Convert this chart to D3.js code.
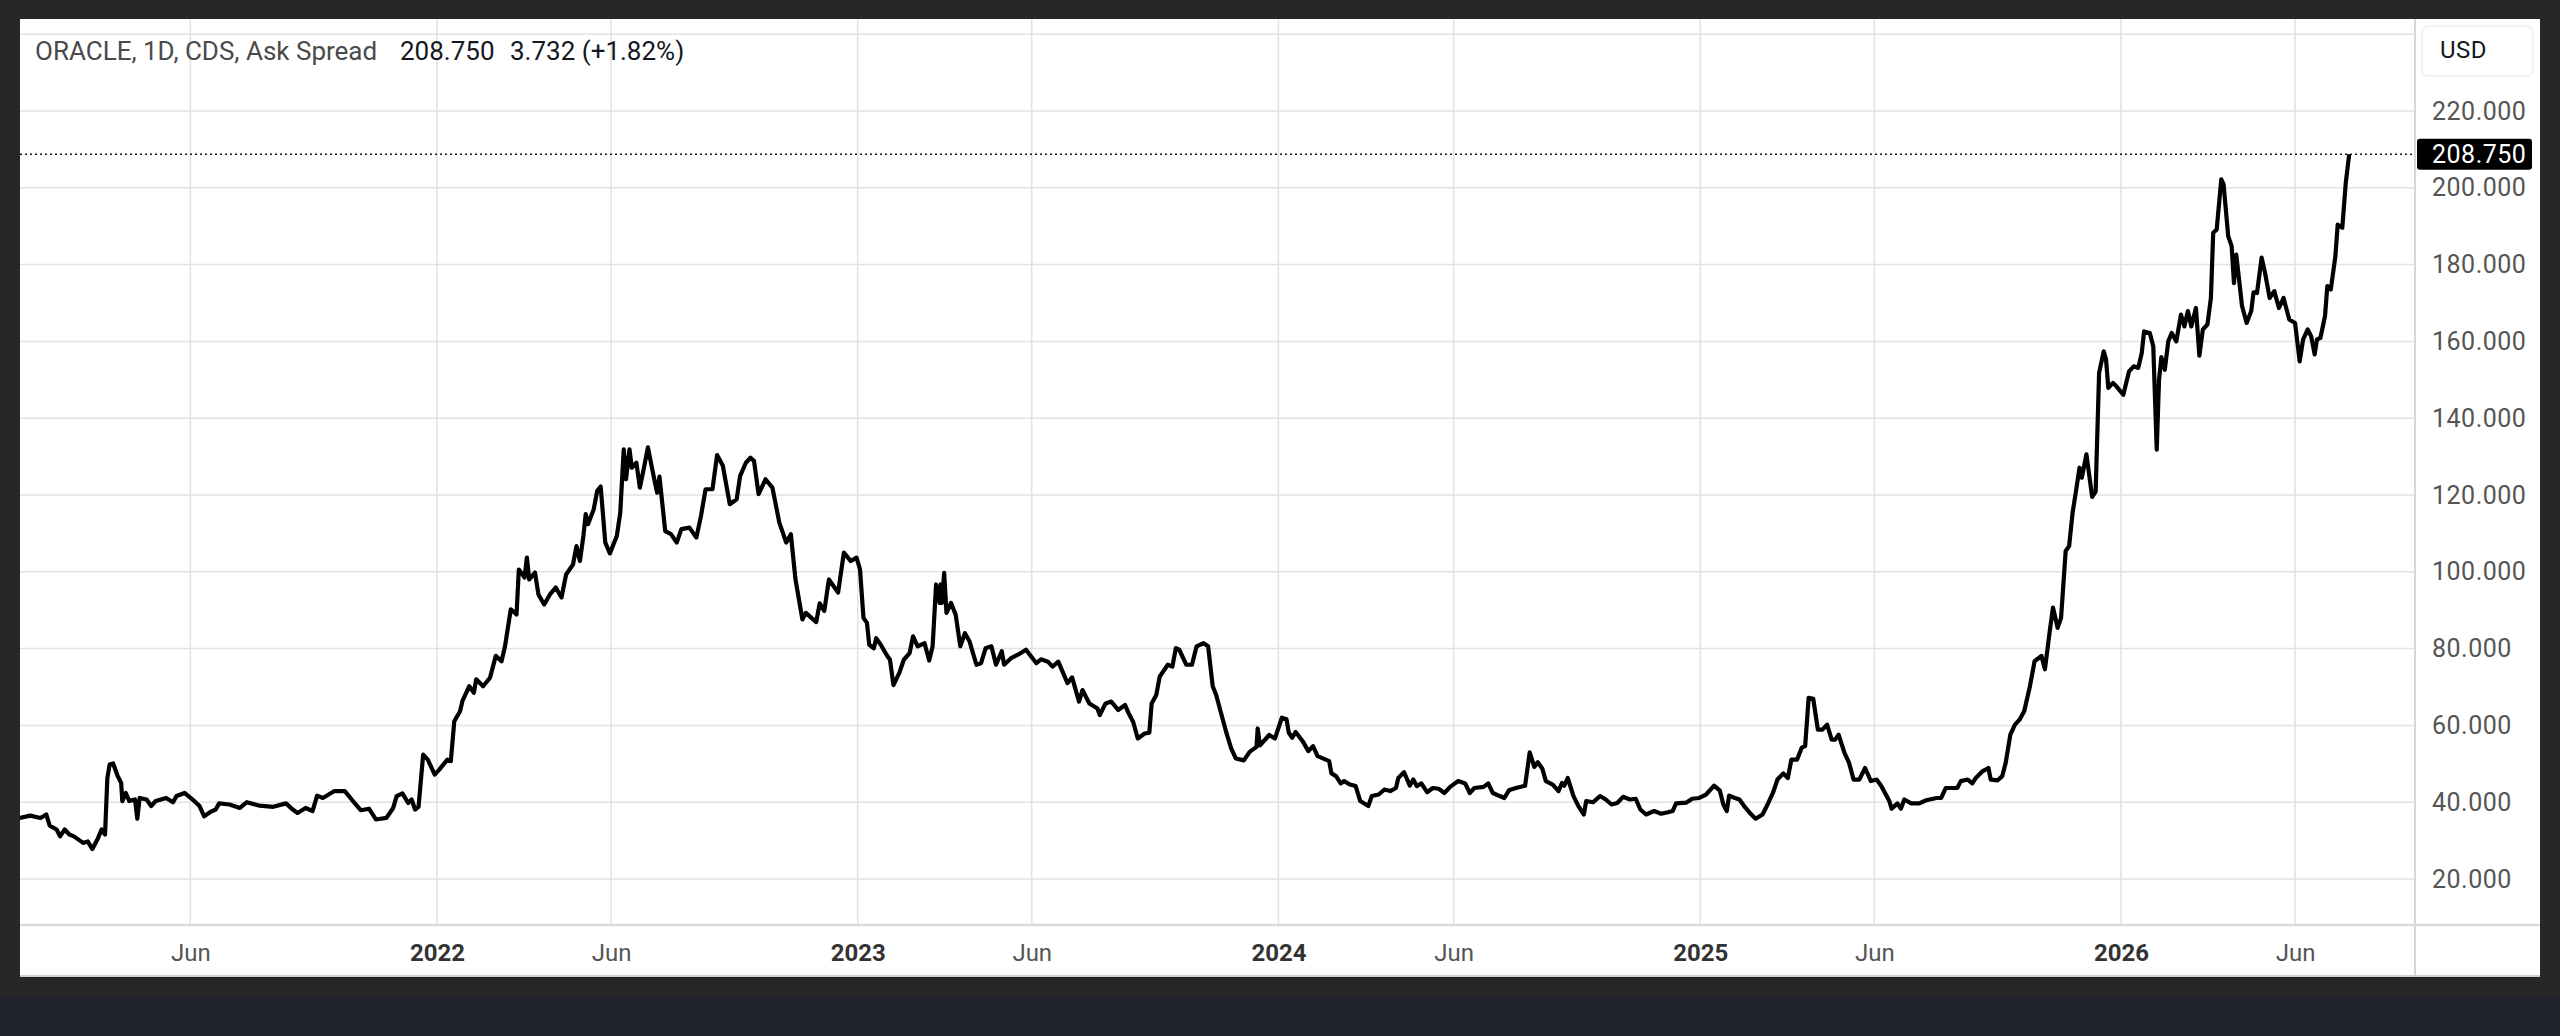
<!DOCTYPE html>
<html>
<head>
<meta charset="utf-8">
<script src="https://cdn.jsdelivr.net/npm/d3@7/dist/d3.min.js"></script>
<style>
  html, body { margin: 0; padding: 0; background: #272727; }
  svg { display: block; font-family: Roboto, "Noto Sans", sans-serif; }
  .grid line { stroke: #e2e2e2; stroke-width: 1.5; }
  .xaxis text { font-size: 24px; fill: #555; }
  .xaxis text.year { font-weight: 700; fill: #333; }
  .yaxis text { font-size: 25px; fill: #555; letter-spacing: 0.5px; }
</style>
</head>
<body>
<div id="chart"></div>
<script>
// CDS ask spread, daily chart
const dates = [
  "2021-01-04","2021-01-13","2021-01-22","2021-01-27","2021-01-30","2021-02-05","2021-02-08","2021-02-12","2021-02-16","2021-02-20",
  "2021-02-28","2021-03-04","2021-03-08","2021-03-13","2021-03-16","2021-03-19","2021-03-21","2021-03-23","2021-03-26","2021-03-30",
  "2021-04-02","2021-04-03","2021-04-06","2021-04-09","2021-04-14","2021-04-16","2021-04-18","2021-04-24","2021-04-28","2021-05-02",
  "2021-05-11","2021-05-17","2021-05-20","2021-05-27","2021-06-03","2021-06-09","2021-06-13","2021-06-18","2021-06-23","2021-06-26",
  "2021-07-05","2021-07-14","2021-07-20","2021-07-31","2021-08-12","2021-08-23","2021-08-28","2021-09-02","2021-09-09","2021-09-15",
  "2021-09-19","2021-09-24","2021-10-04","2021-10-13","2021-10-19","2021-10-27","2021-11-03","2021-11-09","2021-11-18","2021-11-24",
  "2021-11-27","2021-12-02","2021-12-07","2021-12-10","2021-12-13","2021-12-16","2021-12-20","2021-12-24","2021-12-30",
  "2022-01-03","2022-01-10","2022-01-13","2022-01-16","2022-01-21","2022-01-23","2022-01-29","2022-02-02","2022-02-04","2022-02-10",
  "2022-02-16","2022-02-21","2022-02-26","2022-03-01","2022-03-06","2022-03-11","2022-03-13","2022-03-18","2022-03-20","2022-03-22",
  "2022-03-27","2022-03-30","2022-04-04","2022-04-09","2022-04-14","2022-04-19","2022-04-23","2022-04-29","2022-05-02","2022-05-05",
  "2022-05-08","2022-05-10","2022-05-12","2022-05-17","2022-05-20","2022-05-23","2022-05-27","2022-05-31","2022-06-06","2022-06-09",
  "2022-06-12","2022-06-14","2022-06-17","2022-06-19","2022-06-23","2022-06-26","2022-06-29","2022-07-03","2022-07-07","2022-07-11",
  "2022-07-13","2022-07-18","2022-07-23","2022-07-28","2022-08-01","2022-08-08","2022-08-14","2022-08-18","2022-08-22","2022-08-28",
  "2022-09-01","2022-09-06","2022-09-12","2022-09-18","2022-09-21","2022-09-26","2022-09-30","2022-10-03","2022-10-07","2022-10-13",
  "2022-10-19","2022-10-25","2022-10-31","2022-11-04","2022-11-08","2022-11-14","2022-11-17","2022-11-26","2022-11-29","2022-12-03",
  "2022-12-07","2022-12-15","2022-12-20","2022-12-26","2022-12-31",
  "2023-01-03","2023-01-06","2023-01-09","2023-01-11","2023-01-15","2023-01-17","2023-01-21","2023-01-26","2023-01-29","2023-02-01",
  "2023-02-06","2023-02-10","2023-02-15","2023-02-18","2023-02-22","2023-02-28","2023-03-04","2023-03-07","2023-03-10","2023-03-13",
  "2023-03-14","2023-03-15","2023-03-17","2023-03-19","2023-03-23","2023-03-27","2023-03-31","2023-04-04","2023-04-08","2023-04-14",
  "2023-04-18","2023-04-22","2023-04-27","2023-05-01","2023-05-06","2023-05-08","2023-05-14","2023-05-20","2023-05-27","2023-06-05",
  "2023-06-09","2023-06-15","2023-06-19","2023-06-24","2023-07-02","2023-07-06","2023-07-12","2023-07-15","2023-07-21","2023-07-28",
  "2023-07-30","2023-08-04","2023-08-09","2023-08-15","2023-08-21","2023-08-24","2023-08-28","2023-09-01","2023-09-07","2023-09-11",
  "2023-09-13","2023-09-17","2023-09-20","2023-09-27","2023-10-01","2023-10-04","2023-10-07","2023-10-13","2023-10-18","2023-10-22",
  "2023-10-28","2023-11-01","2023-11-05","2023-11-08","2023-11-17","2023-11-21","2023-11-25","2023-12-02","2023-12-07","2023-12-13",
  "2023-12-14","2023-12-16","2023-12-24","2023-12-29",
  "2024-01-04","2024-01-08","2024-01-10","2024-01-13","2024-01-16","2024-01-22","2024-01-27","2024-01-31","2024-02-04","2024-02-11",
  "2024-02-14","2024-02-16","2024-02-20","2024-02-24","2024-02-27","2024-03-03","2024-03-08","2024-03-12","2024-03-19","2024-03-22",
  "2024-03-28","2024-04-02","2024-04-07","2024-04-12","2024-04-14","2024-04-19","2024-04-24","2024-04-27","2024-04-30","2024-05-04",
  "2024-05-09","2024-05-14","2024-05-19","2024-05-24","2024-05-29","2024-06-05","2024-06-11","2024-06-15","2024-06-19","2024-06-27",
  "2024-07-01","2024-07-05","2024-07-11","2024-07-15","2024-07-19","2024-07-25","2024-08-02","2024-08-06","2024-08-10","2024-08-13",
  "2024-08-17","2024-08-20","2024-08-26","2024-08-31","2024-09-03","2024-09-05","2024-09-08","2024-09-13","2024-09-17","2024-09-22",
  "2024-09-24","2024-09-30","2024-10-06","2024-10-11","2024-10-16","2024-10-21","2024-10-26","2024-11-01","2024-11-06","2024-11-10",
  "2024-11-15","2024-11-22","2024-11-28","2024-12-04","2024-12-08","2024-12-11","2024-12-20","2024-12-25","2024-12-31",
  "2025-01-06","2025-01-13","2025-01-18","2025-01-21","2025-01-24","2025-01-26","2025-01-31","2025-02-04","2025-02-08","2025-02-13",
  "2025-02-18","2025-02-24","2025-03-01","2025-03-05","2025-03-09","2025-03-14","2025-03-18","2025-03-21","2025-03-26","2025-03-30",
  "2025-04-02","2025-04-05","2025-04-09","2025-04-13","2025-04-17","2025-04-21","2025-04-25","2025-04-28","2025-05-01","2025-05-06",
  "2025-05-10","2025-05-14","2025-05-19","2025-05-24","2025-05-29","2025-06-03","2025-06-07","2025-06-11","2025-06-14","2025-06-16",
  "2025-06-21","2025-06-24","2025-06-27","2025-07-03","2025-07-10","2025-07-16","2025-07-25","2025-07-29","2025-08-02","2025-08-08",
  "2025-08-12","2025-08-15","2025-08-21","2025-08-25","2025-08-28","2025-09-03","2025-09-08","2025-09-10","2025-09-16","2025-09-20",
  "2025-09-23","2025-09-27","2025-10-01","2025-10-05","2025-10-09","2025-10-14","2025-10-18","2025-10-24","2025-10-27","2025-10-31",
  "2025-11-03","2025-11-07","2025-11-10","2025-11-14","2025-11-17","2025-11-20","2025-11-23","2025-11-26","2025-11-28","2025-12-02",
  "2025-12-07","2025-12-10","2025-12-13","2025-12-17","2025-12-19","2025-12-21","2025-12-25","2025-12-28",
  "2026-01-03","2026-01-08","2026-01-12","2026-01-16","2026-01-19","2026-01-21","2026-01-26","2026-01-29","2026-02-01","2026-02-03",
  "2026-02-05","2026-02-08","2026-02-11","2026-02-14","2026-02-18","2026-02-22","2026-02-25","2026-02-28","2026-03-03","2026-03-07",
  "2026-03-10","2026-03-13","2026-03-17","2026-03-20","2026-03-22","2026-03-25","2026-03-29","2026-03-31","2026-04-04","2026-04-07",
  "2026-04-09","2026-04-11","2026-04-16","2026-04-20","2026-04-24","2026-04-26","2026-04-29","2026-05-03","2026-05-06","2026-05-10",
  "2026-05-14","2026-05-18","2026-05-22","2026-05-27","2026-06-01","2026-06-05","2026-06-08","2026-06-12","2026-06-15","2026-06-18",
  "2026-06-20","2026-06-23","2026-06-27","2026-06-29","2026-07-02","2026-07-06","2026-07-08","2026-07-12","2026-07-15","2026-07-18"
];
const spread = [
  35.9,36.5,35.9,36.8,33.9,32.9,31.1,32.9,31.6,31.1,
  29.4,29.8,27.8,30.7,32.9,31.6,46.3,49.8,50.1,46.8,
  45.0,40.3,42.4,40.3,40.7,35.7,41.1,40.7,39.0,40.3,
  41.1,40.0,41.6,42.4,40.7,39.0,36.3,37.4,38.1,39.7,
  39.4,38.5,40.0,39.1,38.8,39.7,38.3,37.2,38.5,37.7,
  41.7,41.1,42.9,42.9,40.7,37.9,38.3,35.5,35.9,38.5,
  41.6,42.3,39.8,40.7,38.1,38.8,52.4,51.1,47.2,
  48.5,51.1,50.7,61.1,63.7,66.3,70.2,68.5,72.0,70.2,
  72.4,78.1,76.7,80.6,90.2,88.9,100.6,98.5,103.7,98.0,
  99.8,94.1,91.5,94.1,95.9,93.3,99.3,101.9,106.7,102.8,
  109.3,115.0,112.4,116.3,121.1,122.2,107.6,104.8,109.3,115.4,
  131.9,124.1,131.9,127.1,128.4,121.9,126.3,132.4,126.3,120.6,
  124.8,110.6,109.8,107.6,111.1,111.5,108.9,114.5,121.5,121.5,
  130.4,127.6,117.6,118.9,125.0,128.4,129.7,128.9,120.2,124.1,
  121.9,112.8,107.6,109.8,98.0,87.6,89.3,86.9,91.8,89.8,
  98.0,94.6,105.0,102.8,103.7,
  100.6,88.0,86.7,81.0,80.1,82.7,81.0,78.4,77.1,70.5,
  73.6,77.1,78.8,83.2,80.6,81.4,76.9,80.6,96.7,91.9,
  96.7,91.9,99.7,89.3,91.9,88.8,80.6,84.0,81.9,75.8,
  76.2,80.1,80.6,75.8,79.3,75.8,77.5,78.4,79.7,76.2,
  77.2,76.6,75.3,76.6,71.0,72.5,66.2,69.2,65.7,64.4,
  62.7,65.7,66.2,64.0,65.3,63.2,60.9,56.6,57.9,58.1,
  65.7,67.9,72.7,75.8,75.3,80.1,79.7,75.8,75.8,80.6,
  81.4,80.6,70.2,67.9,57.9,54.0,51.4,50.9,53.1,54.4,
  59.2,54.8,57.5,56.6,
  62.0,61.6,58.1,56.8,58.3,55.9,53.3,54.6,52.0,51.1,
  50.7,47.5,46.8,44.9,45.5,44.6,44.2,40.3,39.0,41.6,
  42.0,43.3,42.9,43.7,46.3,47.8,44.3,45.9,44.2,44.9,
  42.6,43.7,43.5,42.4,44.0,45.5,44.9,42.4,43.7,44.0,
  44.9,42.4,41.6,41.1,43.1,43.7,44.3,53.0,49.2,50.4,
  48.7,45.5,44.6,42.9,45.0,44.3,46.3,41.6,39.1,36.8,
  40.3,40.0,41.6,40.7,39.4,39.8,41.4,40.7,40.9,38.1,
  36.8,37.7,37.0,37.4,37.7,39.7,39.9,40.9,41.1,
  42.0,44.3,43.0,39.4,37.7,41.7,41.1,40.7,39.0,37.2,
  35.7,36.8,39.8,42.4,45.9,47.5,46.3,51.1,51.1,54.2,
  54.6,67.2,66.9,58.9,58.9,60.2,56.3,56.3,57.6,52.9,
  50.3,45.9,45.9,48.9,45.5,45.9,44.2,42.0,40.3,38.3,
  39.7,38.3,40.7,39.7,39.7,40.5,41.1,41.1,43.7,43.7,
  43.7,45.5,45.9,44.9,46.3,48.1,48.9,45.9,45.7,46.8,
  50.3,57.6,60.2,61.5,63.7,70.2,76.7,78.1,74.6,84.1,
  90.7,85.4,88.0,105.4,106.7,115.4,121.1,127.1,124.5,130.6,
  119.5,120.9,151.8,157.4,155.3,147.9,149.2,148.3,
  146.1,152.2,153.5,153.1,157.0,162.6,162.2,158.7,131.8,150.0,
  155.9,152.6,160.0,162.2,160.0,167.0,163.9,167.9,163.9,168.7,
  156.3,163.1,164.4,171.3,188.3,189.1,202.2,200.9,187.4,184.8,
  175.2,182.6,169.2,164.8,167.9,172.8,172.6,181.8,177.8,171.3,
  173.1,168.7,171.3,165.7,164.8,154.8,160.5,163.1,161.3,156.6,
  160.5,160.9,166.6,174.4,173.5,182.2,190.4,189.6,201.3,208.75
];
const lastValue = 208.750;
const lastChange = 3.732;
const lastChangePct = 1.82;

const xTickDates = ["2021-06-01","2022-01-01","2022-06-01","2023-01-01","2023-06-01","2024-01-01",
                    "2024-06-01","2025-01-01","2025-06-01","2026-01-01","2026-06-01"];
const xTickLabels = ["Jun","2022","Jun","2023","Jun","2024","Jun","2025","Jun","2026","Jun"];
const yTicks = [20,40,60,80,100,120,140,160,180,200,220];
const yGrid = [20,40,60,80,100,120,140,160,180,200,220,240];

const W = 2560, H = 1036;
const panel = {left: 20, top: 19, right: 2540, bottom: 977};
const plot = {left: 20, top: 19, right: 2415, bottom: 925};

const parse = d3.utcParse("%Y-%m-%d");
const data = dates.map((d, i) => ({date: parse(d), v: spread[i]}));

const x = d3.scaleUtc()
  .domain([parse("2022-01-01"), parse("2026-01-01")])
  .range([437, 2121]);
const y = d3.scaleLinear().domain([20, 220]).range([879, 111]);

const svg = d3.select("#chart").append("svg")
  .attr("width", W).attr("height", H);

svg.append("rect").attr("width", W).attr("height", H).attr("fill", "#272727");
svg.append("rect").attr("x", 0).attr("y", 997).attr("width", W).attr("height", H - 997)
  .attr("fill", "#1f232d");

// white panel
svg.append("rect")
  .attr("x", panel.left).attr("y", panel.top)
  .attr("width", panel.right - panel.left).attr("height", panel.bottom - panel.top)
  .attr("fill", "#fff");

svg.append("clipPath").attr("id", "plotclip").append("rect")
  .attr("x", plot.left).attr("y", plot.top)
  .attr("width", plot.right - plot.left).attr("height", plot.bottom - plot.top);

const grid = svg.append("g").attr("class", "grid").attr("clip-path", "url(#plotclip)");
grid.selectAll(".vg").data(xTickDates).join("line")
  .attr("x1", d => x(parse(d))).attr("x2", d => x(parse(d)))
  .attr("y1", plot.top).attr("y2", plot.bottom);
grid.selectAll(".hg").data(yGrid).join("line")
  .attr("x1", plot.left).attr("x2", plot.right)
  .attr("y1", d => y(d)).attr("y2", d => y(d));

// pane borders
svg.append("line").attr("x1", plot.right).attr("x2", plot.right)
  .attr("y1", panel.top).attr("y2", panel.bottom)
  .attr("stroke", "#d6d6d6").attr("stroke-width", 2);
svg.append("line").attr("x1", panel.left).attr("x2", panel.right)
  .attr("y1", plot.bottom).attr("y2", plot.bottom)
  .attr("stroke", "#d9d9d9").attr("stroke-width", 2.5);
svg.append("line").attr("x1", panel.left).attr("x2", panel.right)
  .attr("y1", panel.bottom - 1).attr("y2", panel.bottom - 1)
  .attr("stroke", "#cfcfcf").attr("stroke-width", 2);

// last value dotted line
svg.append("line")
  .attr("x1", plot.left).attr("x2", plot.right)
  .attr("y1", y(lastValue)).attr("y2", y(lastValue))
  .attr("stroke", "#131722").attr("stroke-width", 1.6)
  .attr("stroke-dasharray", "2,3");

// the series
svg.append("path")
  .datum(data)
  .attr("clip-path", "url(#plotclip)")
  .attr("fill", "none")
  .attr("stroke", "#000")
  .attr("stroke-width", 4.2)
  .attr("stroke-linejoin", "round")
  .attr("d", d3.line().x(d => x(d.date)).y(d => y(d.v)));

// time axis
const xAxis = d3.axisBottom(x)
  .tickValues(xTickDates.map(parse))
  .tickFormat((d, i) => xTickLabels[i])
  .tickSize(0).tickPadding(0);
const gx = svg.append("g").attr("class", "xaxis")
  .attr("transform", "translate(0," + 944 + ")")
  .call(xAxis);
gx.select(".domain").remove();
gx.selectAll("text")
  .attr("dy", "0.71em")
  .style("font-family", "Roboto, 'Noto Sans', sans-serif")
  .classed("year", (d, i) => xTickLabels[i] !== "Jun");

// price axis
const yAxis = d3.axisRight(y)
  .tickValues(yTicks)
  .tickFormat(d3.format(".3f"))
  .tickSize(0).tickPadding(0);
const gy = svg.append("g").attr("class", "yaxis")
  .attr("transform", "translate(2432,0)")
  .call(yAxis);
gy.select(".domain").remove();
gy.selectAll("text")
  .attr("text-anchor", "start")
  .style("font-family", "Roboto, 'Noto Sans', sans-serif");

// currency button
svg.append("rect")
  .attr("x", 2422).attr("y", 26).attr("width", 111).attr("height", 50).attr("rx", 7)
  .attr("fill", "#fff").attr("stroke", "#eef0f3").attr("stroke-width", 1.5);
svg.append("text")
  .attr("x", 2440).attr("y", 50).attr("dy", "0.35em")
  .attr("font-size", 24).attr("fill", "#131722").attr("letter-spacing", 0.5)
  .text("USD");

// last value label
svg.append("rect")
  .attr("x", 2417).attr("y", y(lastValue) - 15.5).attr("width", 115).attr("height", 31).attr("rx", 3)
  .attr("fill", "#000");
svg.append("text")
  .attr("x", 2432).attr("y", y(lastValue)).attr("dy", "0.35em")
  .attr("font-size", 25).attr("fill", "#fff").attr("letter-spacing", 0.5)
  .text(d3.format(".3f")(lastValue));

// legend / header
const head = svg.append("g").attr("font-size", 26);
head.append("text").attr("x", 35).attr("y", 60).attr("fill", "#4a4a4a")
  .text("ORACLE, 1D, CDS, Ask Spread");
head.append("text").attr("x", 400).attr("y", 60).attr("fill", "#131722")
  .text(d3.format(".3f")(lastValue));
head.append("text").attr("x", 510).attr("y", 60).attr("fill", "#131722")
  .text(d3.format(".3f")(lastChange) + " (+" + d3.format(".2f")(lastChangePct) + "%)");
</script>
</body>
</html>
